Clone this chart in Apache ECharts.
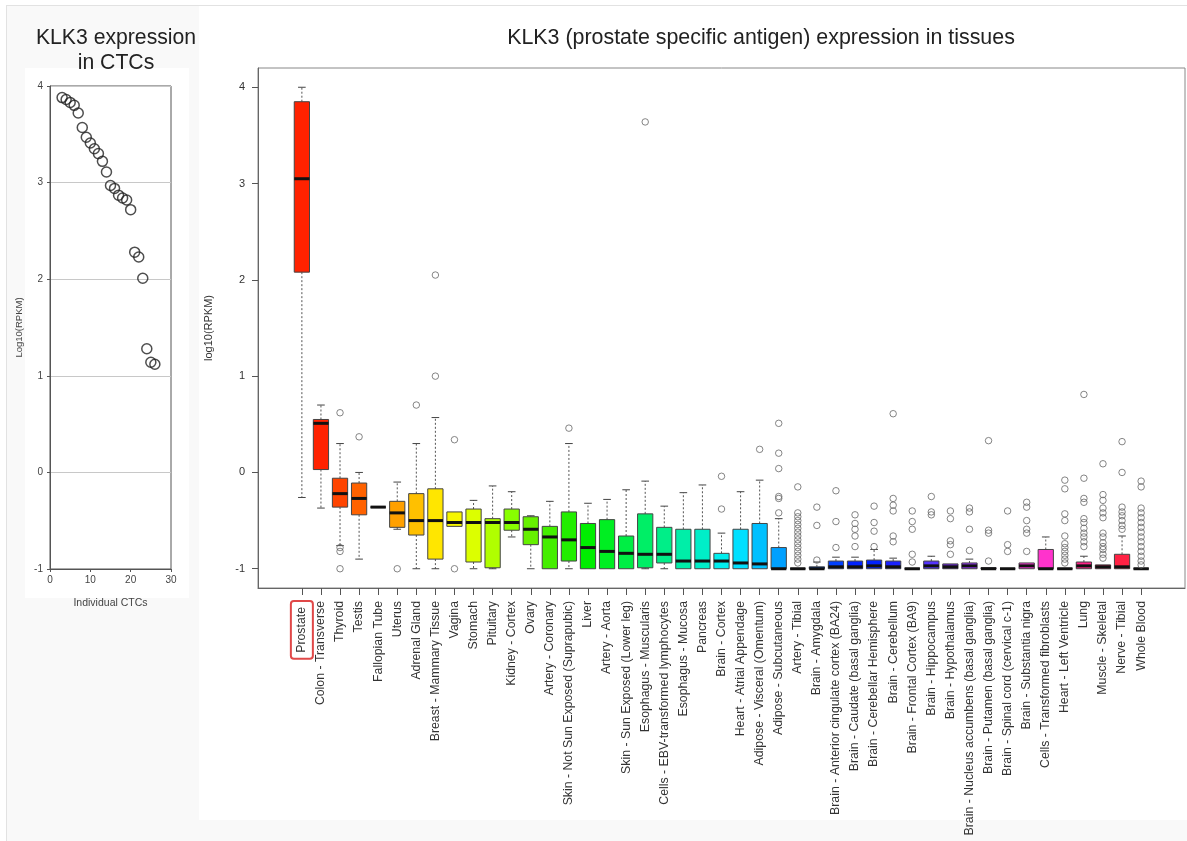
<!DOCTYPE html>
<html><head><meta charset="utf-8">
<script src="https://cdn.jsdelivr.net/npm/echarts@6/dist/echarts.min.js"></script>
<style>
html,body{margin:0;padding:0;background:#fff;}
#wrap{position:relative;width:1187px;height:841px;overflow:hidden;}
.bg{position:absolute;box-sizing:border-box;}
#chart{position:absolute;left:0;top:0;width:1187px;height:841px;}
</style></head><body>
<div id="wrap">
<div class="bg" style="left:6px;top:5px;width:1181px;height:836px;background:#f9f9f9;border-left:1px solid #e2e2e2;border-top:1px solid #e2e2e2;"></div>
<div class="bg" style="left:199px;top:6px;width:988px;height:814px;background:#fff;"></div>
<div class="bg" style="left:25px;top:68px;width:164px;height:530px;background:#fff;"></div>
<div id="chart"></div>
</div>
<script>
// ---------- Data ----------
const categories = [
  'Prostate','Colon - Transverse','Thyroid','Testis','Fallopian Tube','Uterus','Adrenal Gland',
  'Breast - Mammary Tissue','Vagina','Stomach','Pituitary','Kidney - Cortex','Ovary','Artery - Coronary',
  'Skin - Not Sun Exposed (Suprapubic)','Liver','Artery - Aorta','Skin - Sun Exposed (Lower leg)',
  'Esophagus - Muscularis','Cells - EBV-transformed lymphocytes','Esophagus - Mucosa','Pancreas',
  'Brain - Cortex','Heart - Atrial Appendage','Adipose - Visceral (Omentum)','Adipose - Subcutaneous',
  'Artery - Tibial','Brain - Amygdala','Brain - Anterior cingulate cortex (BA24)',
  'Brain - Caudate (basal ganglia)','Brain - Cerebellar Hemisphere','Brain - Cerebellum',
  'Brain - Frontal Cortex (BA9)','Brain - Hippocampus','Brain - Hypothalamus',
  'Brain - Nucleus accumbens (basal ganglia)','Brain - Putamen (basal ganglia)',
  'Brain - Spinal cord (cervical c-1)','Brain - Substantia nigra','Cells - Transformed fibroblasts',
  'Heart - Left Ventricle','Lung','Muscle - Skeletal','Nerve - Tibial','Whole Blood'
];
const whiskerLow = [-0.26,-0.37,-0.76,-0.90,-0.36,-0.59,-1.0,-1.0,-0.56,-1.0,-1.0,-0.67,
  -1.0,-1.0,-1.0,-1.0,-1.0,-1.0,-1.0,-1.0,-1.0,-1.0,-1.0,-1.0,-1.0,-1.0,-1.0,-1.0,-1.0,-1.0,
  -1.0,-1.0,-1.0,-1.0,-1.0,-1.0,-1.0,-1.0,-1.0,-1.0,-1.0,-1.0,-1.0,-1.0,-1.0];
const q1 = [2.08,0.03,-0.36,-0.44,-0.36,-0.57,-0.65,-0.90,-0.56,-0.93,-0.99,-0.60,-0.75,-1.0,
  -0.92,-1.0,-1.0,-1.0,-0.99,-0.94,-1.0,-1.0,-1.0,-1.0,-1.0,-1.0,-1.0,-1.0,-1.0,-1.0,-1.0,-1.0,
  -1.0,-1.0,-1.0,-1.0,-1.0,-1.0,-1.0,-1.0,-1.0,-1.0,-1.0,-1.0,-1.0];
const median = [3.05,0.51,-0.22,-0.27,-0.36,-0.42,-0.50,-0.50,-0.52,-0.52,
  -0.52,-0.52,-0.59,-0.67,-0.70,-0.78,-0.82,-0.84,-0.85,-0.85,
  -0.92,-0.92,-0.92,-0.94,-0.95,-1.0,-1.0,-1.0,-0.98,-0.98,
  -0.97,-0.98,-1.0,-0.97,-0.98,-0.97,-1.0,-1.0,-0.97,-1.0,
  -1.0,-0.97,-0.98,-0.98,-1.0];
const q3 = [3.85,0.55,-0.06,-0.11,-0.36,-0.30,-0.22,-0.17,-0.41,-0.38,
  -0.48,-0.38,-0.46,-0.56,-0.41,-0.53,-0.49,-0.66,-0.43,-0.57,
  -0.59,-0.59,-0.84,-0.59,-0.53,-0.78,-1.0,-0.98,-0.92,-0.92,
  -0.91,-0.92,-1.0,-0.92,-0.95,-0.94,-0.99,-1.0,-0.94,-0.80,
  -1.0,-0.93,-0.96,-0.85,-1.0];
const whiskerHigh = [4.0,0.70,0.30,0.0,-0.36,-0.10,0.30,0.57,-0.41,-0.29,
  -0.14,-0.20,-0.45,-0.30,0.30,-0.32,-0.28,-0.18,-0.09,-0.35,
  -0.21,-0.13,-0.63,-0.20,-0.08,-0.48,-1.0,-0.93,-0.88,-0.88,
  -0.80,-0.89,-1.0,-0.87,-0.95,-0.90,-0.99,-1.0,-0.94,-0.67,
  -1.0,-0.87,-0.96,-0.66,-1.0];
const outliers = [
  [],[],[0.62,-0.78,-0.82,-1.0],[0.37],[],[-1.0],[0.70],[2.05,1.0],[0.34,-1.0],[],
  [],[],[],[],[0.46],[],[],[],[3.64],[],
  [],[],[-0.04,-0.38],[],[0.24],[0.51,0.20,0.04,-0.25,-0.27,-0.42],
  [-0.15,-0.42,-0.46,-0.50,-0.54,-0.58,-0.62,-0.66,-0.70,-0.74,-0.78,-0.82,-0.86,-0.90,-0.94],
  [-0.36,-0.55,-0.91],[-0.19,-0.51,-0.78],[-0.44,-0.53,-0.59,-0.66,-0.77],
  [-0.35,-0.52,-0.61,-0.77],[0.61,-0.27,-0.34,-0.40,-0.66,-0.72],[-0.40,-0.51,-0.59,-0.85,-0.93],
  [-0.25,-0.41,-0.44],[-0.40,-0.48,-0.71,-0.75,-0.85],[-0.37,-0.41,-0.59,-0.81],
  [0.33,-0.60,-0.63,-0.92],[-0.40,-0.75,-0.82],[-0.31,-0.36,-0.50,-0.59,-0.63,-0.82],[],
  [-0.08,-0.17,-0.43,-0.50,-0.66,-0.74,-0.78,-0.82,-0.86,-0.90,-0.94],
  [0.81,-0.06,-0.27,-0.31,-0.48,-0.52,-0.58,-0.63,-0.67,-0.72,-0.77],
  [0.09,-0.23,-0.29,-0.37,-0.42,-0.47,-0.63,-0.67,-0.73,-0.77,-0.80,-0.85,-0.89],
  [0.32,0.0,-0.36,-0.41,-0.45,-0.50,-0.55,-0.59],
  [-0.09,-0.15,-0.37,-0.42,-0.47,-0.52,-0.57,-0.62,-0.67,-0.72,-0.77,-0.82,-0.87,-0.92,-0.96]
];
const boxColors = [
  '#ff2200','#ff2200','#ff4400','#ff6200','#ff8000','#ffa000','#ffc000','#ffe600','#f6f600','#dcff00',
  '#b0ff00','#88ff00','#66f000','#44ee00','#22ee00','#00ee00','#00ee22','#00ee44','#00ee66','#00ee88',
  '#00eea8','#00eec8','#00eeee','#00e0ff','#00c0ff','#00a0ff','#0080ff','#0060ff','#0040ff','#0022ff',
  '#0022ff','#1a22ff','#3322ff','#5533ff','#6a22dd','#9933ff','#bb22ff','#dd22ff','#ff33dd','#ff33cc',
  '#ff22aa','#ff2288','#ff2266','#ff2244','#ff2222'
];
const mainYTicks = [-1,0,1,2,3,4];
const ctcIndex = [3,4,5,6,7,8,9,10,11,12,13,14,15,16,17,18,19,20,21,22,23,24,25,26];
const ctcLog10 = [3.88,3.86,3.83,3.80,3.72,3.57,3.47,3.41,3.35,3.30,3.22,3.11,2.97,2.94,2.87,2.84,2.82,2.72,2.28,2.23,2.01,1.28,1.14,1.12];

// ---------- Build ----------
const FONT = "'Liberation Sans', Arial, Helvetica, sans-serif";
const catIdx = categories.map((c, i) => i);
const boxData = categories.map((c, i) => [i, whiskerLow[i], q1[i], median[i], q3[i], whiskerHigh[i]]);
const outlierData = [];
outliers.forEach((arr, i) => arr.forEach(v => outlierData.push([i, v])));
const ctcData = ctcIndex.map((x, i) => [x, ctcLog10[i]]);

function renderBox(params, api) {
  const i = api.value(0);
  const pLo = api.coord([i, api.value(1)]);
  const pQ1 = api.coord([i, api.value(2)]);
  const pMed = api.coord([i, api.value(3)]);
  const pQ3 = api.coord([i, api.value(4)]);
  const pHi = api.coord([i, api.value(5)]);
  const bw = api.size([0.8, 0])[0];
  const cw = api.size([0.4, 0])[0];
  const cx = pMed[0];
  const dashStyle = { stroke: '#555', lineWidth: 1, lineDash: [2, 2] };
  const capStyle = { stroke: '#444', lineWidth: 1 };
  const children = [];
  if (pHi[1] < pQ3[1]) {
    children.push({ type: 'line', shape: { x1: cx, y1: pQ3[1], x2: cx, y2: pHi[1] }, style: dashStyle });
    children.push({ type: 'line', shape: { x1: cx - cw / 2, y1: pHi[1], x2: cx + cw / 2, y2: pHi[1] }, style: capStyle });
  }
  if (pLo[1] > pQ1[1]) {
    children.push({ type: 'line', shape: { x1: cx, y1: pQ1[1], x2: cx, y2: pLo[1] }, style: dashStyle });
    children.push({ type: 'line', shape: { x1: cx - cw / 2, y1: pLo[1], x2: cx + cw / 2, y2: pLo[1] }, style: capStyle });
  }
  children.push({ type: 'rect', shape: { x: cx - bw / 2, y: pQ3[1], width: bw, height: pQ1[1] - pQ3[1] },
    style: { fill: boxColors[params.dataIndex], stroke: '#444', lineWidth: 1 } });
  children.push({ type: 'line', shape: { x1: cx - bw / 2, y1: pMed[1], x2: cx + bw / 2, y2: pMed[1] },
    style: { stroke: '#111', lineWidth: 3 } });
  return { type: 'group', children };
}

const chart = echarts.init(document.getElementById('chart'), null, { renderer: 'canvas' });
chart.setOption({
  animation: false,
  textStyle: { fontFamily: FONT },
  title: [
    { text: 'KLK3 expression\nin CTCs', left: 116, top: 26, textAlign: 'center', padding: 0,
      textStyle: { fontSize: 21.2, fontWeight: 'normal', color: '#222', lineHeight: 25, fontFamily: FONT } },
    { text: 'KLK3 (prostate specific antigen) expression in tissues', left: 761, top: 27, textAlign: 'center', padding: 0,
      textStyle: { fontSize: 21.4, fontWeight: 'normal', color: '#222', lineHeight: 22, fontFamily: FONT } }
  ],
  grid: [
    { left: 258, top: 68, width: 927, height: 520, show: true, borderColor: '#888', borderWidth: 1, backgroundColor: 'transparent' },
    { left: 50, top: 86, width: 121, height: 483, show: true, borderColor: '#555', borderWidth: 1, backgroundColor: 'transparent' }
  ],
  xAxis: [
    { type: 'value', gridIndex: 0, min: -2.3, max: 46.3,
      axisLine: { show: true, onZero: false, lineStyle: { color: '#666' } },
      axisTick: { show: true, length: 7, customValues: catIdx, lineStyle: { color: '#555' } },
      axisLabel: { customValues: catIdx, rotate: 90, margin: 13, fontSize: 12.3, color: '#333', fontFamily: FONT,
        formatter: v => { const n = categories[Math.round(v)]; return Math.round(v) === 0 ? '{hl|' + n + '}' : n; },
        rich: { hl: { borderColor: '#e04848', borderWidth: 2, borderRadius: 3, padding: [5, 6, 5, 6], fontSize: 12.3, color: '#333', fontFamily: FONT } } },
      splitLine: { show: false } },
    { type: 'value', gridIndex: 1, min: 0, max: 30, interval: 10,
      axisLine: { show: true, onZero: false, lineStyle: { color: '#555' } },
      axisTick: { show: true, length: 3, lineStyle: { color: '#555' } },
      axisLabel: { fontSize: 10, color: '#444', margin: 6, fontFamily: FONT },
      splitLine: { show: false },
      name: 'Individual CTCs', nameLocation: 'middle', nameGap: 29,
      nameTextStyle: { fontSize: 10.5, color: '#444', fontFamily: FONT } }
  ],
  yAxis: [
    { type: 'value', gridIndex: 0, min: -1.2, max: 4.2,
      axisLine: { show: true, onZero: false, lineStyle: { color: '#666' } },
      axisTick: { show: true, length: 6, customValues: mainYTicks, lineStyle: { color: '#555' } },
      axisLabel: { customValues: mainYTicks, fontSize: 11, color: '#333', margin: 13, fontFamily: FONT },
      splitLine: { show: false },
      name: 'log10(RPKM)', nameLocation: 'middle', nameGap: 44,
      nameTextStyle: { fontSize: 11, color: '#333', fontFamily: FONT } },
    { type: 'value', gridIndex: 1, min: -1, max: 4, interval: 1,
      axisLine: { show: true, onZero: false, lineStyle: { color: '#555' } },
      axisTick: { show: true, length: 3, lineStyle: { color: '#555' } },
      axisLabel: { fontSize: 10, color: '#444', margin: 7, fontFamily: FONT },
      splitLine: { show: true, lineStyle: { color: '#c8c8c8' } },
      name: 'Log10(RPKM)', nameLocation: 'middle', nameGap: 26,
      nameTextStyle: { fontSize: 9.5, color: '#444', fontFamily: FONT } }
  ],
  series: [
    { type: 'custom', name: 'tissues', xAxisIndex: 0, yAxisIndex: 0, renderItem: renderBox,
      encode: { x: 0, y: [1, 2, 3, 4, 5] }, data: boxData, z: 2 },
    { type: 'scatter', name: 'outliers', xAxisIndex: 0, yAxisIndex: 0, data: outlierData,
      symbol: 'circle', symbolSize: 6.5,
      itemStyle: { color: 'rgba(0,0,0,0)', borderColor: '#666', borderWidth: 1 }, z: 3 },
    { type: 'scatter', name: 'CTCs', xAxisIndex: 1, yAxisIndex: 1, data: ctcData,
      symbol: 'circle', symbolSize: 10,
      itemStyle: { color: 'rgba(0,0,0,0)', borderColor: '#222', borderWidth: 1.5 }, z: 3 }
  ]
});
</script>
</body></html>
